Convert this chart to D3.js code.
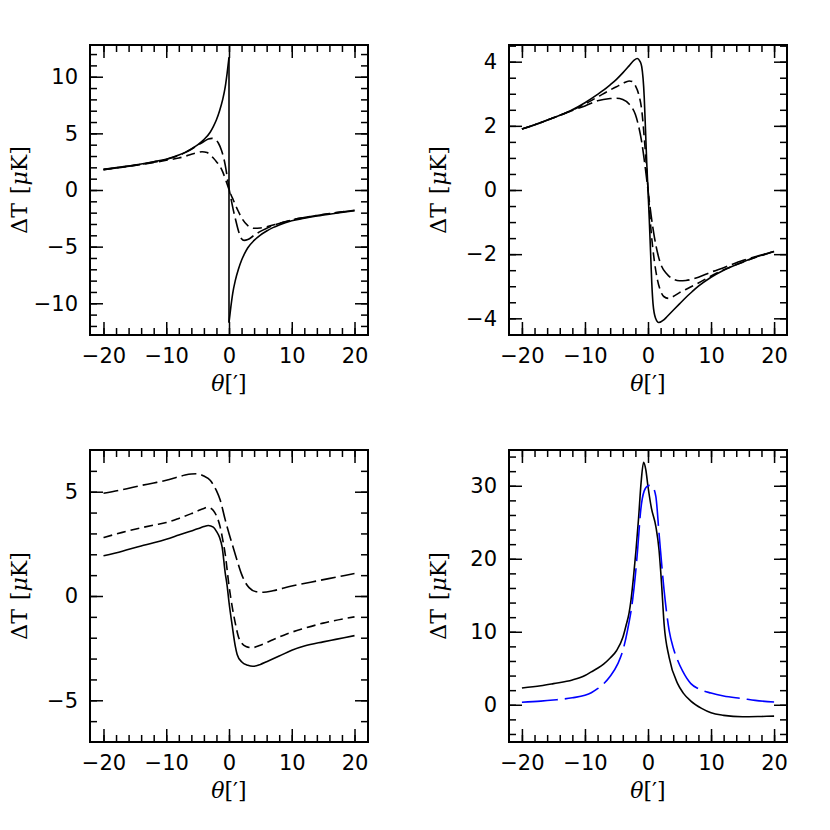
<!DOCTYPE html>
<html>
<head>
<meta charset="utf-8">
<script src="https://cdn.jsdelivr.net/npm/d3@7"></script>
<style>
  body { margin: 0; background: #fff; }
  svg { display: block; }
  .tick line { stroke: #000; stroke-width: 1.5; }
  .title { font-family: "DejaVu Serif", serif; font-size: 22px; fill: #000; }
</style>
</head>
<body>
<div id="chart"></div>
<script>
"use strict"

// theta in arcmin, delta T in microkelvin
const p1SolidLeft = [[-20,1.82],[-17,2.05],[-14,2.3],[-12,2.5],[-10,2.72],[-8,3.08],[-7,3.32],[-6,3.62],[-5,3.98],[-4,4.45],[-3,5.1],[-2.5,5.6],[-2,6.2],[-1.5,7.0],[-1,8.0],[-0.6,9.1],[-0.3,10.3],[0,11.7]];
const p1SolidRight = [[0,-11.7],[0.3,-10.3],[0.6,-9.1],[1,-8.0],[1.5,-7.0],[2,-6.2],[2.5,-5.6],[3,-5.1],[4,-4.45],[5,-3.98],[6,-3.62],[7,-3.32],[8,-3.08],[10,-2.72],[12,-2.5],[14,-2.3],[17,-2.05],[20,-1.82]];
const p1DashA = [[-20,1.8],[-14,2.28],[-10,2.7],[-8,3.05],[-7,3.3],[-6,3.6],[-5,3.95],[-4,4.28],[-3.3,4.5],[-2.7,4.56],[-2.2,4.45],[-1.7,4.15],[-1.2,3.5],[-0.6,2.2],[-0.3,1.2],[0,0.15],[0.3,-0.7],[0.7,-1.8],[1,-2.5],[1.5,-3.6],[2,-4.3],[2.4,-4.45],[3,-4.38],[4,-4.0],[5,-3.65],[6,-3.38],[8,-2.95],[10,-2.65],[14,-2.25],[20,-1.8]];
const p1DashB = [[-20,1.8],[-14,2.25],[-10,2.62],[-8,2.82],[-7,2.97],[-6,3.15],[-5,3.3],[-4.3,3.38],[-3.5,3.3],[-3,3.1],[-2.5,2.82],[-2,2.5],[-1.4,2.05],[-1,1.6],[-0.5,0.85],[0,0.05],[0.3,-0.4],[0.7,-0.9],[1,-1.3],[1.5,-1.9],[2,-2.45],[3,-3.15],[4,-3.38],[5,-3.35],[6,-3.25],[8,-2.95],[10,-2.65],[14,-2.25],[20,-1.8]];

const p2Solid = [[-20,1.9],[-17,2.1],[-15,2.25],[-12,2.5],[-10,2.72],[-8,2.98],[-7,3.12],[-6,3.28],[-5,3.45],[-4,3.65],[-3,3.87],[-2.2,4.05],[-1.7,4.1],[-1.3,4.02],[-1,3.85],[-0.6,2.9],[-0.4,1.9],[-0.2,0.85],[0,0],[0.2,-0.9],[0.4,-1.9],[0.6,-2.9],[0.8,-3.55],[1.2,-4.0],[1.7,-4.13],[2.5,-4.05],[3,-3.95],[4,-3.75],[5,-3.55],[6,-3.35],[7,-3.17],[8,-3.0],[10,-2.72],[12,-2.5],[15,-2.25],[17,-2.1],[20,-1.92]];
const p2DashA = [[-20,1.9],[-15,2.25],[-10,2.68],[-8,2.9],[-6,3.12],[-5,3.22],[-4,3.32],[-3,3.4],[-2.5,3.38],[-2,3.25],[-1.5,3.0],[-1,2.5],[-0.5,1.4],[0,0.05],[0.5,-1.3],[1,-2.2],[1.5,-2.8],[2,-3.15],[2.5,-3.32],[3.3,-3.38],[4,-3.32],[5,-3.2],[6,-3.1],[8,-2.9],[10,-2.68],[15,-2.25],[20,-1.92]];
const p2DashB = [[-20,1.9],[-15,2.25],[-12,2.48],[-10,2.62],[-8,2.78],[-6,2.85],[-5,2.86],[-4,2.82],[-3,2.68],[-2,2.35],[-1.5,2.0],[-1,1.5],[-0.5,0.8],[0,0],[0.5,-0.8],[1,-1.45],[1.5,-1.95],[2,-2.3],[3,-2.62],[4,-2.78],[5,-2.83],[6,-2.82],[8,-2.72],[10,-2.56],[12,-2.42],[15,-2.2],[20,-1.92]];

const p3Solid = [[-20,1.93],[-17,2.15],[-14,2.4],[-12,2.55],[-10,2.72],[-8,2.92],[-6,3.12],[-5,3.22],[-4,3.33],[-3.3,3.38],[-2.5,3.3],[-2,3.1],[-1.5,2.8],[-1.1,2.35],[-0.6,1.1],[-0.3,0.5],[0,-0.3],[0.5,-1.4],[1,-2.4],[1.3,-2.8],[2,-3.15],[3,-3.32],[3.8,-3.37],[5,-3.28],[6,-3.15],[8,-2.88],[10,-2.6],[12,-2.4],[15,-2.2],[17,-2.08],[20,-1.9]];
const p3DashMid = [[-20,2.8],[-17,3.05],[-14,3.27],[-12,3.4],[-10,3.52],[-8,3.72],[-6,3.95],[-5,4.08],[-4,4.2],[-3.5,4.25],[-3,4.22],[-2.5,4.1],[-2,3.85],[-1.4,3.3],[-1,2.7],[-0.6,2.0],[0,0.5],[0.5,-0.5],[1,-1.3],[1.5,-1.95],[2,-2.25],[2.7,-2.42],[3.65,-2.48],[5,-2.36],[7,-2.1],[9.2,-1.82],[12,-1.55],[15,-1.3],[20,-1.0]];
const p3DashTop = [[-20,4.93],[-17,5.1],[-14,5.3],[-12,5.42],[-10,5.55],[-8,5.72],[-7,5.8],[-6,5.85],[-5,5.86],[-4,5.75],[-3,5.55],[-2.5,5.33],[-2,5.05],[-1.4,4.6],[-0.6,3.65],[0,3.0],[0.5,2.5],[1.3,1.7],[2,1.05],[2.6,0.65],[3.2,0.4],[4.4,0.2],[5.5,0.18],[7,0.25],[10,0.48],[14.5,0.75],[17,0.9],[20,1.08]];

const p4Black = [[-20,2.3],[-17,2.6],[-15,2.9],[-12,3.4],[-10,4.0],[-9,4.5],[-8,5.0],[-7,5.6],[-6,6.4],[-5,7.4],[-4,9.2],[-3.5,10.8],[-3,12.6],[-2.7,14.3],[-2.3,17.5],[-1.9,21.2],[-1.5,25.5],[-1.1,30.4],[-0.7,33.2],[-0.35,32.2],[0,29.9],[0.55,26.9],[1.25,24.4],[1.75,21.2],[2.15,16.6],[2.55,11.1],[3.35,6.5],[4.7,2.9],[5.6,1.6],[6.8,0.5],[8.5,-0.5],[10,-1.1],[12,-1.45],[15,-1.65],[18,-1.6],[20,-1.55]];
const p4Blue = [[-20,0.35],[-17,0.5],[-15,0.65],[-12,0.95],[-10,1.3],[-9,1.65],[-8,2.2],[-7,2.9],[-6,3.9],[-4.8,5.6],[-4,7.4],[-3.25,10.2],[-2.45,14.3],[-2,17.8],[-1.65,21.2],[-1.15,26.7],[-0.6,29.3],[0,30.0],[0.3,30.05],[0.7,29.9],[1.25,28.5],[1.75,23.5],[2.55,15.7],[3.35,10.2],[4,7.8],[4.7,6.1],[5.5,4.6],[6.8,2.9],[8,2.2],[10,1.6],[12,1.2],[15,0.85],[17,0.6],[20,0.37]];

// tick values
const xMajorTicks = [-20, -10, 0, 10, 20];
const xMinorTicks = [-20, -18, -16, -14, -12, -10, -8, -6, -4, -2, 0, 2, 4, 6, 8, 10, 12, 14, 16, 18, 20];
const p1YMajor = [-10, -5, 0, 5, 10];
const p2YMajor = [-4, -2, 0, 2, 4];
const p3YMajor = [-5, 0, 5];
const p4YMajor = [0, 10, 20, 30];

const SHORT_DASH = "9,5";
const LONG_DASH = "15,5";

window.addEventListener("load", drawFigure);

function drawFigure() {
  let svg = d3.select("#chart")
    .append("svg")
      .attr("width", 830)
      .attr("height", 830);

  let panels = [
    { box: [90, 45, 368, 335], xDomain: [-22.15, 22.15], yDomain: [-12.8, 12.8],
      yMajor: p1YMajor, yMinor: d3.range(-12, 12.5, 1),
      series: [
        { data: p1SolidLeft }, { data: p1SolidRight },
        { data: [p1SolidLeft[p1SolidLeft.length - 1], p1SolidRight[0]] },
        { data: p1DashA, dash: LONG_DASH },
        { data: p1DashB, dash: SHORT_DASH }
      ] },
    { box: [509, 45, 787, 335], xDomain: [-22.05, 22.05], yDomain: [-4.52, 4.52],
      yMajor: p2YMajor, yMinor: d3.range(-4.5, 4.6, 0.5),
      series: [
        { data: p2Solid },
        { data: p2DashA, dash: SHORT_DASH },
        { data: p2DashB, dash: LONG_DASH }
      ] },
    { box: [90, 450, 368, 742], xDomain: [-22.15, 22.15], yDomain: [-7, 7],
      yMajor: p3YMajor, yMinor: d3.range(-6, 6.5, 1),
      series: [
        { data: p3Solid },
        { data: p3DashMid, dash: SHORT_DASH },
        { data: p3DashTop, dash: LONG_DASH }
      ] },
    { box: [509, 450, 787, 742], xDomain: [-22.05, 22.05], yDomain: [-5.1, 34.9],
      yMajor: p4YMajor, yMinor: d3.range(-4, 34.5, 2),
      series: [
        { data: p4Black },
        { data: p4Blue, dash: "36,7", color: "#0000ff" }
      ] }
  ];

  for (let panel of panels) {
    drawPanel(svg, panel);
  }
}

function drawPanel(svg, panel) {
  let [x0, y0, x1, y1] = panel.box;
  let x = d3.scaleLinear().domain(panel.xDomain).range([x0, x1]);
  let y = d3.scaleLinear().domain(panel.yDomain).range([y1, y0]);
  let g = svg.append("g");

  let clipId = "clip" + x0 + "_" + y0;
  g.append("clipPath").attr("id", clipId)
    .append("rect").attr("x", x0).attr("y", y0).attr("width", x1 - x0).attr("height", y1 - y0);

  // ticks on all four sides, pointing inwards
  let MAJOR = 13, MINOR = 7;
  let axes = [
    [d3.axisBottom(x).tickValues(xMinorTicks).tickSize(-MINOR).tickFormat(""), y1, "y"],
    [d3.axisBottom(x).tickValues(xMajorTicks).tickSize(-MAJOR).tickPadding(13).tickFormat(d3.format("d")), y1, "y"],
    [d3.axisTop(x).tickValues(xMinorTicks).tickSize(-MINOR).tickFormat(""), y0, "y"],
    [d3.axisTop(x).tickValues(xMajorTicks).tickSize(-MAJOR).tickFormat(""), y0, "y"],
    [d3.axisLeft(y).tickValues(panel.yMinor).tickSize(-MINOR).tickFormat(""), x0, "x"],
    [d3.axisLeft(y).tickValues(panel.yMajor).tickSize(-MAJOR).tickPadding(12).tickFormat(d3.format("d")), x0, "x"],
    [d3.axisRight(y).tickValues(panel.yMinor).tickSize(-MINOR).tickFormat(""), x1, "x"],
    [d3.axisRight(y).tickValues(panel.yMajor).tickSize(-MAJOR).tickFormat(""), x1, "x"]
  ];
  for (let [axis, pos, dir] of axes) {
    let a = g.append("g")
      .attr("transform", dir === "y" ? `translate(0,${pos})` : `translate(${pos},0)`)
      .call(axis)
      .attr("font-family", "DejaVu Sans, sans-serif")
      .attr("font-size", 21);
    a.selectAll("text").attr("fill", "#000");
    a.select(".domain").remove();
  }

  let line = d3.line()
    .x((d) => x(d[0]))
    .y((d) => y(d[1]))
    .curve(d3.curveMonotoneX);

  let plot = g.append("g").attr("clip-path", `url(#${clipId})`);
  for (let s of panel.series) {
    plot.append("path")
      .datum(s.data)
      .attr("d", s.data.length === 2 ? d3.line().x((d) => x(d[0])).y((d) => y(d[1]))(s.data) : line)
      .attr("fill", "none")
      .attr("stroke", s.color || "#000")
      .attr("stroke-width", 1.6)
      .attr("stroke-dasharray", s.dash || null);
  }

  g.append("rect")
    .attr("x", x0).attr("y", y0)
    .attr("width", x1 - x0).attr("height", y1 - y0)
    .attr("fill", "none")
    .attr("stroke", "#000")
    .attr("stroke-width", 2);

  // axis titles
  let xt = g.append("text")
    .attr("class", "title")
    .attr("x", (x0 + x1) / 2)
    .attr("y", y1 + 56)
    .attr("text-anchor", "middle");
  xt.append("tspan").attr("font-style", "italic").text("θ");
  xt.append("tspan").text("[′]");

  let yt = g.append("text")
    .attr("class", "title")
    .attr("transform", `translate(${x0 - 71},${(y0 + y1) / 2}) rotate(-90)`)
    .attr("text-anchor", "middle")
    .attr("dy", "0.35em");
  yt.append("tspan").text("ΔT");
  yt.append("tspan").attr("dx", 9).text("[");
  yt.append("tspan").attr("font-style", "italic").text("μ");
  yt.append("tspan").text("K]");
}
</script>
</body>
</html>
